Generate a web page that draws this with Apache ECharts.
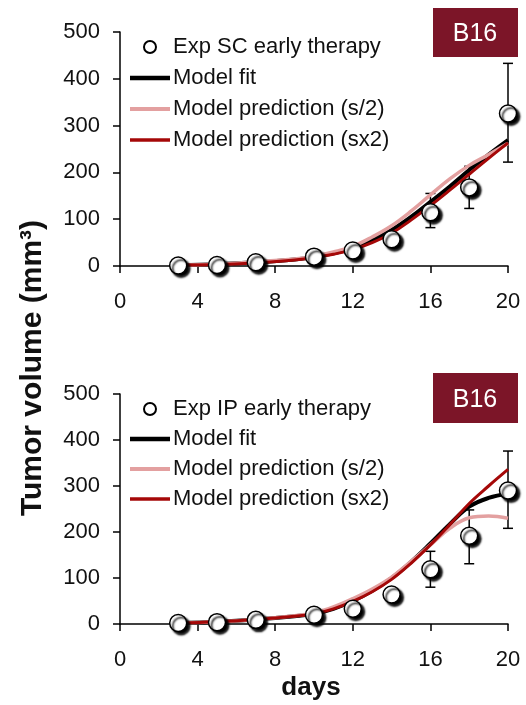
<!DOCTYPE html>
<html>
<head>
<meta charset="utf-8">
<script src="https://cdn.jsdelivr.net/npm/echarts@6/dist/echarts.min.js"></script>
<style>html,body{margin:0;padding:0;background:#fff;}#c{width:526px;height:705px;}</style>
</head>
<body>
<div id="c"></div>
<script>
// ---- data ----
var xTicks = [0, 4, 8, 12, 16, 20];
var yTicks = [0, 100, 200, 300, 400, 500];
var expDays = [3, 5, 7, 10, 12, 14, 16, 18, 20];

// Top panel (SC)
var scMean = [1, 2, 8, 20, 33, 57, 115, 168, 326];
var scLow  = [0, 1, 5, 15, 27, 48, 82, 123, 222];
var scHigh = [2, 4, 11, 25, 40, 66, 155, 213, 433];

var modelDays = [3, 5, 7, 9, 10, 11, 12, 13, 14, 15, 16, 17, 18, 19, 20];
var scFit   = [2, 4, 8, 14, 19, 27, 38, 55, 77, 105, 137, 170, 205, 238, 269];
var scHalf  = [2, 4, 9, 15, 21, 30, 42, 62, 86, 117, 152, 186, 215, 238, 262];
var scDouble= [2, 3, 7, 13, 18, 25, 35, 50, 70, 98, 129, 162, 196, 230, 263];

// Bottom panel (IP)
var ipMean = [2, 4, 9, 20, 33, 64, 119, 192, 290];
var ipLow  = [0, 2, 6, 15, 27, 56, 80, 131, 208];
var ipHigh = [4, 6, 12, 25, 40, 72, 158, 248, 376];

var ipFit   = [2, 5, 10, 17, 22, 33, 50, 72, 100, 135, 175, 217, 255, 274, 283];
var ipHalf  = [2, 5, 10, 18, 24, 37, 55, 76, 102, 136, 172, 208, 231, 235, 230];
var ipDouble= [2, 5, 10, 17, 22, 33, 49, 70, 97, 132, 172, 216, 262, 300, 336];

var names = {
  sc: 'Exp SC early therapy',
  ip: 'Exp IP early therapy',
  fit: 'Model fit',
  half: 'Model prediction (s/2)',
  dbl: 'Model prediction (sx2)'
};

// ---- styles ----
var FONT = 'Liberation Sans, Arial, sans-serif';
var C_FIT = '#000000', C_HALF = '#E3A0A0', C_DBL = '#A50808', C_BOX = '#7C1528';

function zip(xs, ys) { return xs.map(function (x, i) { return [x, ys[i]]; }); }
function errData(xs, lo, hi) { return xs.map(function (x, i) { return [x, lo[i], hi[i]]; }); }

function xAxis(idx) {
  return {
    gridIndex: idx, type: 'value', min: 0, max: 20, interval: 4,
    axisLine: { show: true, onZero: false, lineStyle: { color: '#000', width: 1.5 } },
    axisTick: { show: true, inside: false, length: 7, lineStyle: { color: '#000', width: 1.5 } },
    axisLabel: { margin: 25, fontSize: 22, color: '#111', fontFamily: FONT,
      formatter: function (v) { return xTicks.indexOf(v) >= 0 ? String(v) : ''; } },
    splitLine: { show: false }
  };
}
function yAxis(idx) {
  return {
    gridIndex: idx, type: 'value', min: 0, max: 500, interval: 100,
    axisLine: { show: true, lineStyle: { color: '#000', width: 1.5 } },
    axisTick: { show: true, inside: false, length: 7, lineStyle: { color: '#000', width: 1.5 } },
    axisLabel: { margin: 20, fontSize: 22, color: '#111', fontFamily: FONT,
      formatter: function (v) { return yTicks.indexOf(v) >= 0 ? String(v) : ''; } },
    splitLine: { show: false }
  };
}

function errSeries(idx, data) {
  return {
    type: 'custom', xAxisIndex: idx, yAxisIndex: idx, z: 1, silent: true,
    data: data,
    renderItem: function (params, api) {
      var x = api.value(0);
      var lo = api.coord([x, api.value(1)]);
      var hi = api.coord([x, api.value(2)]);
      var w = 5;
      var st = { stroke: '#000', lineWidth: 1.5 };
      return { type: 'group', children: [
        { type: 'line', shape: { x1: lo[0], y1: lo[1], x2: hi[0], y2: hi[1] }, style: st },
        { type: 'line', shape: { x1: lo[0] - w, y1: lo[1], x2: lo[0] + w, y2: lo[1] }, style: st },
        { type: 'line', shape: { x1: hi[0] - w, y1: hi[1], x2: hi[0] + w, y2: hi[1] }, style: st }
      ]};
    }
  };
}
function lineSeries(idx, name, ys, color, width, z) {
  return {
    type: 'line', name: name, xAxisIndex: idx, yAxisIndex: idx, z: z,
    data: zip(modelDays, ys), smooth: 0.4, symbol: 'none', showSymbol: false,
    lineStyle: { color: color, width: width }, itemStyle: { color: color },
    silent: true
  };
}
function scatterSeries(idx, name, ys) {
  return {
    type: 'scatter', name: name, xAxisIndex: idx, yAxisIndex: idx, z: 5,
    data: zip(expDays, ys), symbol: 'circle', symbolSize: 17,
    itemStyle: { color: '#fff', borderColor: '#000', borderWidth: 1.5, opacity: 1,
      shadowColor: 'rgba(0,0,0,1)', shadowBlur: 2, shadowOffsetX: 3, shadowOffsetY: 3 },
    silent: true
  };
}
function legend(top, gap, first) {
  var plain = { shadowBlur: 0, shadowOffsetX: 0, shadowOffsetY: 0, shadowColor: 'rgba(0,0,0,0)' };
  return {
    orient: 'vertical', left: 130, top: top, padding: 0, itemGap: gap,
    itemWidth: 40, itemHeight: 12, selectedMode: false, symbolKeepAspect: true,
    textStyle: { fontSize: 22, color: '#111', fontFamily: FONT, padding: [0, 0, 0, -2] },
    data: [
      { name: first, icon: 'circle', itemStyle: plain },
      { name: names.fit, icon: 'path://M0,0H40V4.5H0Z', itemStyle: { color: C_FIT } },
      { name: names.half, icon: 'path://M0,0H40V4H0Z', itemStyle: { color: C_HALF } },
      { name: names.dbl, icon: 'path://M0,0H40V3.5H0Z', itemStyle: { color: C_DBL } }
    ]
  };
}

var option = {
  animation: false,
  backgroundColor: '#fff',
  grid: [
    { left: 120, top: 32, width: 388, height: 234 },
    { left: 120, top: 394, width: 388, height: 230 }
  ],
  xAxis: [xAxis(0), xAxis(1)],
  yAxis: [yAxis(0), yAxis(1)],
  legend: [legend(36, 9, names.sc), legend(398, 8, names.ip)],
  series: [
    errSeries(0, errData(expDays, scLow, scHigh)),
    lineSeries(0, names.fit, scFit, C_FIT, 4, 2),
    lineSeries(0, names.half, scHalf, C_HALF, 3.5, 3),
    lineSeries(0, names.dbl, scDouble, C_DBL, 3, 4),
    scatterSeries(0, names.sc, scMean),
    errSeries(1, errData(expDays, ipLow, ipHigh)),
    lineSeries(1, names.fit, ipFit, C_FIT, 4, 2),
    lineSeries(1, names.half, ipHalf, C_HALF, 3.5, 3),
    lineSeries(1, names.dbl, ipDouble, C_DBL, 3, 4),
    scatterSeries(1, names.ip, ipMean)
  ],
  graphic: [
    { type: 'rect', left: 433, top: 8, shape: { width: 85, height: 49 }, style: { fill: C_BOX } },
    { type: 'text', x: 475, y: 34, style: { text: 'B16', fill: '#fff', font: '25px ' + FONT, textAlign: 'center', textVerticalAlign: 'middle' } },
    { type: 'rect', left: 433, top: 373, shape: { width: 85, height: 50 }, style: { fill: C_BOX } },
    { type: 'text', x: 475, y: 400, style: { text: 'B16', fill: '#fff', font: '25px ' + FONT, textAlign: 'center', textVerticalAlign: 'middle' } },
    { type: 'text', x: 33, y: 368, rotation: Math.PI / 2,
      style: { text: 'Tumor volume (mm³)', fill: '#111', font: 'bold 30px ' + FONT, textAlign: 'center', textVerticalAlign: 'middle' } },
    { type: 'text', x: 311, y: 688,
      style: { text: 'days', fill: '#111', font: 'bold 26px ' + FONT, textAlign: 'center', textVerticalAlign: 'middle' } }
  ]
};

var chart = echarts.init(document.getElementById('c'), null, { renderer: 'canvas' });
chart.setOption(option);
</script>
</body>
</html>
